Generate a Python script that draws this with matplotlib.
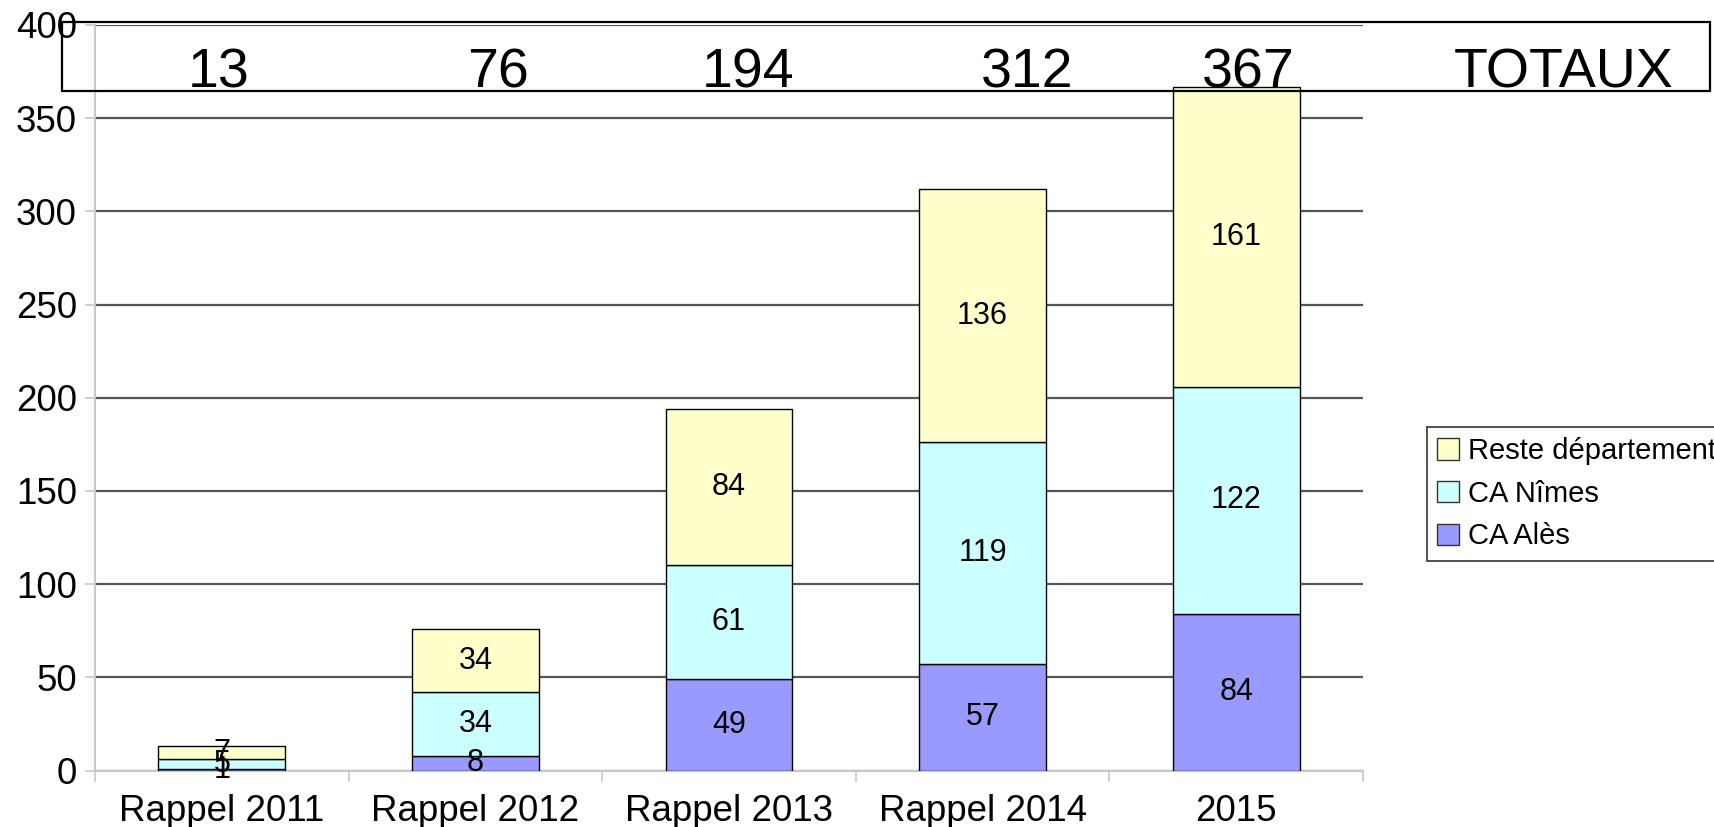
import matplotlib
matplotlib.use("Agg")
import matplotlib.pyplot as plt
import numpy as np
from matplotlib.patches import Rectangle, Patch

plt.rcParams["font.family"] = ["Liberation Sans", "DejaVu Sans"]

categories = ["Rappel 2011", "Rappel 2012", "Rappel 2013", "Rappel 2014", "2015"]
ca_ales    = [1, 8, 49, 57, 84]
ca_nimes   = [5, 34, 61, 119, 122]
reste_dept = [7, 34, 84, 136, 161]
totaux     = [13, 76, 194, 312, 367]

series = [
  ("CA Alès", ca_ales, "#9999ff"),
  ("CA Nîmes", ca_nimes, "#ccffff"),
  ("Reste département", reste_dept, "#ffffcc"),
]

W, H = 1715, 827
fig = plt.figure(figsize=(W / 100, H / 100), dpi=100)
ax = fig.add_axes([95 / W, 1 - 770.5 / H, (1363 - 95) / W, (770.5 - 25) / H])

x = np.arange(len(categories))
bottom = np.zeros(len(categories))
handles = []
for name, vals, col in series:
  vals = np.array(vals, dtype=float)
  ax.bar(x, vals, 0.5, bottom=bottom, color=col, edgecolor="black", lw=1, zorder=3)
  for xi, b, v in zip(x, bottom, vals):
    ax.text(xi, b + v / 2, f"{int(v)}", ha="center", va="center", fontsize=22, zorder=4)
  handles.append(Patch(facecolor=col, edgecolor="#333333", lw=1, label=name))
  bottom += vals

ax.set_xlim(-0.5, len(categories) - 0.5)
ax.set_ylim(0, 400)
ax.set_yticks(np.arange(0, 401, 50))
ax.yaxis.grid(True, color="#555555", lw=1.6, zorder=0)
ax.set_axisbelow(True)

ax.set_xticks(x)
ax.set_xticklabels(categories, fontsize=26.5)
ax.set_xticks(np.arange(-0.5, len(categories), 1), minor=True)
ax.tick_params(axis="x", which="major", length=0, pad=17)
ax.tick_params(axis="x", which="minor", length=8, width=1.2, color="#c8c8c8", direction="out")
ax.tick_params(axis="y", length=7, width=1.2, color="#c8c8c8", labelsize=26.5, pad=6)

for s in ("top", "right"):
  ax.spines[s].set_visible(False)
for s in ("left", "bottom"):
  ax.spines[s].set_color("#c8c8c8")
  ax.spines[s].set_linewidth(1.5)
  ax.spines[s].set_zorder(2)

# totals box above the chart
fig.patches.append(Rectangle((62 / W, 1 - 91 / H), (1710 - 62) / W, (91 - 22) / H,
                             transform=fig.transFigure, fill=False, edgecolor="black",
                             lw=1.6, zorder=10))
box_x = [219, 498, 748, 1027, 1248, 1564]
labels = [str(t) for t in totaux] + ["TOTAUX"]
for bx, lab in zip(box_x, labels):
  fig.text(bx / W, 1 - 87.5 / H, lab, ha="center", va="baseline", fontsize=40)

leg = fig.legend(handles=handles[::-1], loc="upper left",
                 bbox_to_anchor=(1427 / W, 1 - 427 / H), fontsize=21,
                 fancybox=False, edgecolor="#333333", framealpha=1,
                 handlelength=0.75, handleheight=0.75, handletextpad=0.3,
                 labelspacing=0.5, borderpad=0.35, borderaxespad=0)
leg.get_frame().set_linewidth(1.2)

fig.savefig("out.png", dpi=100)
